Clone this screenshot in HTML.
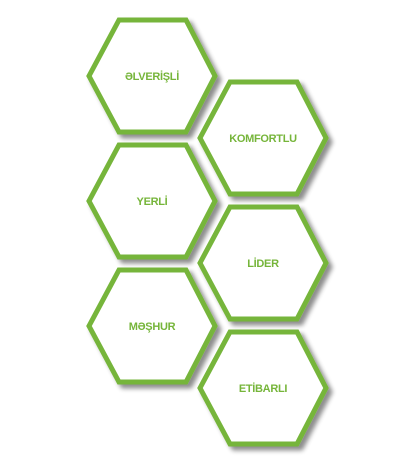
<!DOCTYPE html>
<html><head><meta charset="utf-8"><style>
body{margin:0;background:#fff;width:418px;height:461px;overflow:hidden}
svg{display:block}
text{font-family:"Liberation Sans",sans-serif;font-weight:bold;font-size:11px;fill:#76b53a;text-anchor:middle;letter-spacing:-0.3px}
</style></head><body>
<svg width="418" height="461">
<defs><filter id="sh" x="-20%" y="-20%" width="150%" height="150%"><feGaussianBlur in="SourceAlpha" stdDeviation="2.5"/><feOffset dx="4" dy="4"/><feComponentTransfer><feFuncA type="linear" slope="0.45"/></feComponentTransfer><feMerge><feMergeNode/><feMergeNode in="SourceGraphic"/></feMerge></filter></defs>
<g id="g"></g>
</svg>
<script>
const labels=["ƏLVERİŞLİ","KOMFORTLU","YERLİ","LİDER","MƏŞHUR","ETİBARLI"];
const cxs=[152,263,152,263,152,263];
const cys=[76,138,201,263,326,388];
const g=document.getElementById('g');
labels.forEach((t,i)=>{
 const cx=cxs[i],cy=cys[i];
 const p=document.createElementNS('http://www.w3.org/2000/svg','polygon');
 
 
 p.setAttribute('points',[[cx-63,cy],[cx-33,cy-56],[cx+34,cy-56],[cx+63,cy],[cx+34,cy+56],[cx-33,cy+56]].map(a=>a.join(',')).join(' '));
 p.setAttribute('fill','#fff');p.setAttribute('stroke','#76b53a');p.setAttribute('stroke-width','5');
 p.setAttribute('filter','url(#sh)');
 g.appendChild(p);
 const tx=document.createElementNS('http://www.w3.org/2000/svg','text');
 
 
 tx.setAttribute('x',cx);tx.setAttribute('y',cy+4);tx.textContent=t;
 g.appendChild(tx);
});
</script>
</body></html>
